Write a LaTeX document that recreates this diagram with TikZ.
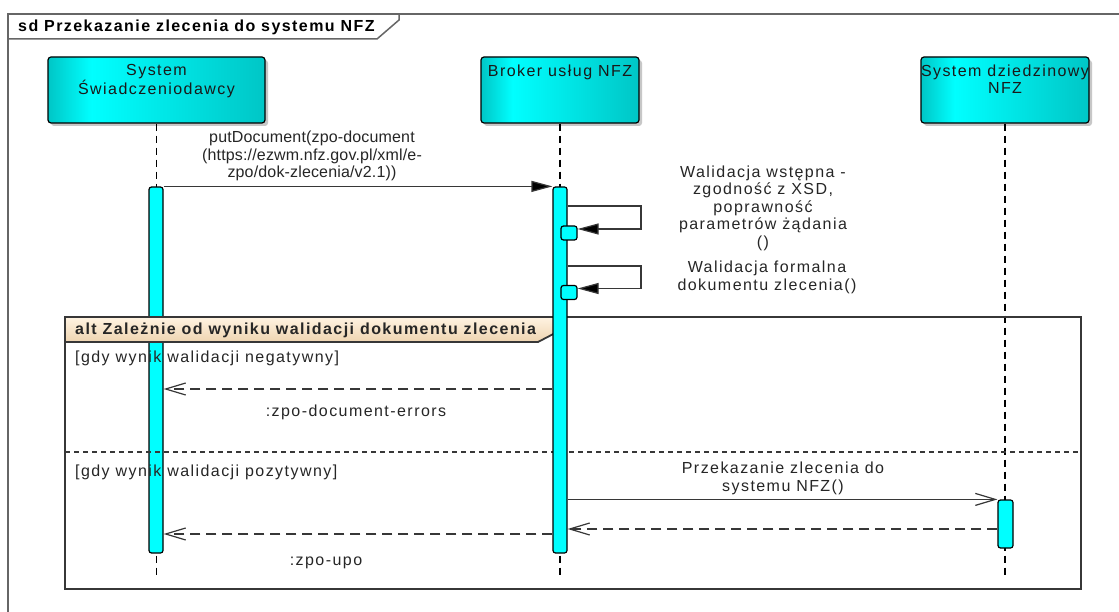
\documentclass[tikz,border=0pt]{standalone}
\usepackage{fontspec}
\setmainfont{Liberation Sans}[LetterSpace=9]
\usetikzlibrary{arrows.meta}
\usetikzlibrary{positioning}
\usetikzlibrary{shadows}
\definecolor{headdark}{RGB}{0,198,198}
\definecolor{headlight}{RGB}{0,255,255}
\definecolor{actcyan}{RGB}{0,255,255}
\definecolor{tabtop}{RGB}{255,243,226}
\definecolor{tabbottom}{RGB}{238,212,176}
\definecolor{linegray}{RGB}{55,55,55}
\pgfdeclarehorizontalshading{headshade}{100bp}{color(0bp)=(headdark); color(25bp)=(headdark); color(35bp)=(headlight); color(75bp)=(headdark); color(100bp)=(headdark)}

\begin{document}
\begin{tikzpicture}[x=1pt, y=-1pt, font=\fontsize{16}{17.5}\selectfont,
  headbox/.style={draw=black, line width=1.2pt, rounded corners=3pt, shade, shading=headshade,
    minimum height=66pt, inner sep=0pt,
    drop shadow={shadow xshift=3pt, shadow yshift=-3pt, fill=black!22, opacity=1}},
  headtext/.style={align=center, inner sep=0pt, text=black!90},
  lifeline/.style={draw=black, line width=1.5pt, dash pattern=on 7pt off 5pt},
  actbar/.style={draw=black, fill=actcyan, line width=1.2pt, rounded corners=2.5pt, inner sep=0pt, minimum width=14pt},
  call/.style={draw=linegray, line width=1.2pt, -{Triangle[length=21pt,width=11pt,fill=black]}},
  send/.style={draw=linegray, line width=1.2pt, -{Straight Barb[length=20pt,width=12pt]}},
  reply/.style={send, dash pattern=on 10pt off 6pt},
  msg/.style={align=center, inner sep=0pt, text=black!85},
  guard/.style={anchor=west, inner sep=0pt, text=black!85},
  frame/.style={draw=linegray, line width=1.8pt},
  outer/.style={draw=black!60, line width=1.5pt}]

\useasboundingbox (0,0) rectangle (1119,612);
\fill[white] (0,0) rectangle (1119,612);

\draw[outer] (8,14) rectangle (1140,640);
\node[anchor=west, inner sep=0pt, font=\fontsize{16}{17.5}\selectfont\bfseries] (title) at (18,27) {sd Przekazanie zlecenia do systemu NFZ};
\draw[outer] (8,39) -- (377,39) -- (399,20) -- (399,14);

\node[headbox, minimum width=217pt] (sw) at (156.5,90) {};
\node[headbox, minimum width=158pt] (broker) at (560,90) {};
\node[headbox, minimum width=168pt] (dz) at (1005,90) {};
\node[headtext, below=8pt of sw.north] (sw-name) {System\\Świadczeniodawcy};
\node[headtext, below=8pt of broker.north] (broker-name) {Broker usług NFZ};
\node[headtext, below=8pt of dz.north] (dz-name) {System dziedzinowy\\NFZ};

\coordinate (bottom) at (0,575);
\foreach \n in {sw,broker,dz}
\draw[lifeline] (\n.south) -- (\n.south |- bottom);

\node[actbar, minimum height=366pt] (sw-act) at (156,370) {};

\draw[frame] (65,317) rectangle (1081,589);
\draw[frame, top color=tabtop, bottom color=tabbottom] (65,317) -- (561,317) -- (561,330) -- (538,342) -- (65,342) -- cycle;
\draw[draw=linegray, line width=1.2pt, dash pattern=on 5pt off 4pt] (65,452) -- (1081,452);
\node[guard, font=\fontsize{16}{17.5}\selectfont\bfseries] (alt-lbl) at (75,330) {alt Zależnie od wyniku walidacji dokumentu zlecenia};

\node[actbar, minimum height=366pt] (broker-act) at (560,370) {};
\node[actbar, minimum width=16pt, minimum height=14pt] (chk1) at (569,233) {};
\node[actbar, minimum width=16pt, minimum height=14pt] (chk2) at (569,292.5) {};
\node[actbar, minimum width=15pt, minimum height=48pt] (dz-act) at (1005.5,524) {};

\draw[call] (sw-act.north east) -- (broker-act.north west);
\coordinate (loop1) at (641,206);
\coordinate (loop2) at (641,266);
\draw[call] (loop1 -| broker-act.east) -- (loop1) |- ([yshift=4pt]chk1.east);
\draw[call] (loop2 -| broker-act.east) -- (loop2) |- ([yshift=4pt]chk2.east);

\coordinate (err) at (0,389);
\coordinate (ack) at (0,529);
\coordinate (upo) at (0,534);
\draw[reply] (err -| broker-act.west) -- (err -| sw-act.east);
\draw[send] (broker-act.east |- dz-act.north) -- (dz-act.north west);
\draw[reply] (ack -| dz-act.west) -- (ack -| broker-act.east);
\draw[reply] (upo -| broker-act.west) -- (upo -| sw-act.east);

\node[msg, font=\fontsize{16}{17.5}\selectfont\addfontfeatures{LetterSpace=1}] (put-lbl) at (312,156) {putDocument(zpo-document\\(https://ezwm.nfz.gov.pl/xml/e-\\zpo/dok-zlecenia/v2.1))};
\node[msg] (chk1-lbl) at (763,208) {Walidacja wstępna -\\zgodność z XSD,\\poprawność\\parametrów żądania\\()};
\node[msg] (chk2-lbl) at (767,277.5) {Walidacja formalna\\dokumentu zlecenia()};
\node[msg] (err-lbl) at (356,412) {:zpo-document-errors};
\node[msg] (nfz-lbl) at (783,478.5) {Przekazanie zlecenia do\\systemu NFZ()};
\node[msg] (upo-lbl) at (326,563) {:zpo-upo};

\node[guard] (neg) at (75,358) {[gdy wynik walidacji negatywny]};
\node[guard] (pos) at (75,472) {[gdy wynik walidacji pozytywny]};

\end{tikzpicture}
\end{document}
